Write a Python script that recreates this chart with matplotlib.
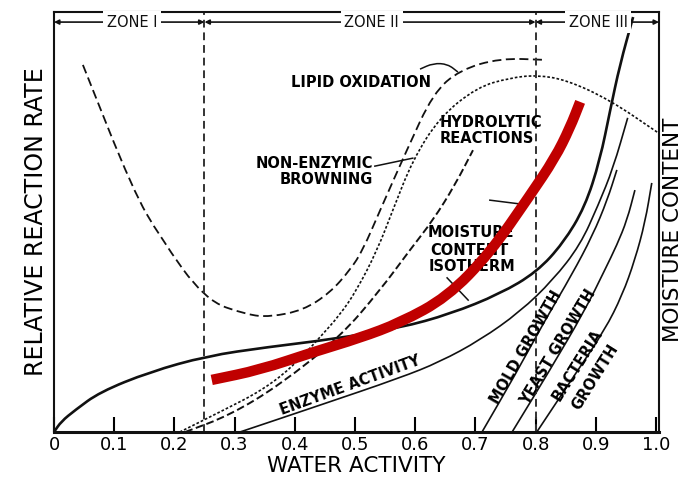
import matplotlib
matplotlib.use("Agg")
import matplotlib.pyplot as plt
from matplotlib.path import Path
from matplotlib.patches import PathPatch

plt.rcParams['font.family'] = ['DejaVu Sans']

# ---- data (water activity, relative reaction rate) ----
iso_aw = [0, 0.012, 0.035, 0.076, 0.159, 0.254, 0.354, 0.463, 0.575, 0.658, 0.741, 0.802, 0.846, 0.882, 0.907, 0.924, 0.940, 0.962]
iso_r = [0, 0.025, 0.052, 0.095, 0.143, 0.181, 0.202, 0.221, 0.248, 0.281, 0.329, 0.381, 0.450, 0.536, 0.648, 0.767, 0.874, 0.988]

lipid_aw = [0.048, 0.131, 0.176, 0.251, 0.321, 0.359, 0.414, 0.458, 0.492, 0.513, 0.542, 0.586, 0.630, 0.674, 0.741, 0.816]
lipid_r = [0.874, 0.576, 0.464, 0.314, 0.279, 0.274, 0.290, 0.331, 0.386, 0.433, 0.529, 0.671, 0.807, 0.862, 0.890, 0.886]

brown_aw = [0.209, 0.276, 0.347, 0.400, 0.442, 0.475, 0.503, 0.537, 0.563, 0.596, 0.641, 0.703, 0.757, 0.802, 0.852, 0.924, 1.002]
brown_r = [0, 0.048, 0.100, 0.160, 0.226, 0.279, 0.338, 0.433, 0.529, 0.648, 0.750, 0.821, 0.843, 0.850, 0.838, 0.790, 0.714]

hydro_aw = [0.218, 0.292, 0.375, 0.475, 0.542, 0.591, 0.630, 0.666, 0.696]
hydro_r = [0, 0.040, 0.112, 0.226, 0.338, 0.433, 0.505, 0.588, 0.671]

enz_aw = [0.309, 0.442, 0.575, 0.641, 0.708, 0.774, 0.829, 0.874, 0.904, 0.929, 0.953]
enz_r = [0, 0.064, 0.129, 0.167, 0.219, 0.286, 0.362, 0.445, 0.540, 0.629, 0.748]

mold_aw = [0.711, 0.766, 0.816, 0.860, 0.895, 0.919, 0.935]
mold_r = [0, 0.136, 0.267, 0.374, 0.469, 0.552, 0.624]

yeast_aw = [0.761, 0.824, 0.882, 0.915, 0.935, 0.952, 0.965]
yeast_r = [0, 0.148, 0.290, 0.386, 0.445, 0.505, 0.576]

bact_aw = [0.802, 0.865, 0.915, 0.944, 0.965, 0.982, 0.993]
bact_r = [0, 0.136, 0.243, 0.326, 0.410, 0.500, 0.593]

red_aw = [0.262, 0.342, 0.430, 0.508, 0.575, 0.653, 0.724, 0.791, 0.832, 0.857, 0.874]
red_r = [0.124, 0.148, 0.190, 0.224, 0.260, 0.321, 0.426, 0.564, 0.652, 0.724, 0.786]

zone_bounds = [0, 0.25, 0.8, 1.005]
zone_labels = ['ZONE I', 'ZONE II', 'ZONE III']
zone_label_x = [0.13, 0.528, 0.904]
xticks = [0, 0.1, 0.2, 0.3, 0.4, 0.5, 0.6, 0.7, 0.8, 0.9, 1.0]
xtick_labels = ['0', '0.1', '0.2', '0.3', '0.4', '0.5', '0.6', '0.7', '0.8', '0.9', '1.0']

fig = plt.figure(figsize=(6.92, 4.90), dpi=100)
ax = fig.add_axes([54/692, 58/490, 605/692, 420/490])
ax.set_xlim(0, 1.005)
ax.set_ylim(0, 1)

k = '#111111'


def smooth(xs, ys, **kw):
    """Draw a smooth curve through the read points using quadratic Bezier segments."""
    verts = [(xs[0], ys[0])]
    codes = [Path.MOVETO]
    n = len(xs)
    if n > 2:
        verts.append(((xs[0] + xs[1]) / 2, (ys[0] + ys[1]) / 2))
        codes.append(Path.LINETO)
        for i in range(1, n - 1):
            verts.append((xs[i], ys[i]))
            verts.append(((xs[i] + xs[i + 1]) / 2, (ys[i] + ys[i + 1]) / 2))
            codes += [Path.CURVE3, Path.CURVE3]
    verts.append((xs[-1], ys[-1]))
    codes.append(Path.LINETO)
    patch = PathPatch(Path(verts, codes), fill=False, transform=ax.transData, **kw)
    ax.add_patch(patch)
    return patch


smooth(iso_aw, iso_r, edgecolor=k, lw=1.9)
smooth(lipid_aw, lipid_r, edgecolor=k, lw=1.3, ls=(0, (5, 2.5)))
smooth(brown_aw, brown_r, edgecolor=k, lw=1.2, ls=(0, (1.6, 1.2)))
smooth(hydro_aw, hydro_r, edgecolor=k, lw=1.4, ls=(0, (4, 1.8)))
for xs, ys in [(enz_aw, enz_r), (mold_aw, mold_r), (yeast_aw, yeast_r), (bact_aw, bact_r)]:
    smooth(xs, ys, edgecolor=k, lw=1.2)

# zone boundaries
for b in zone_bounds[1:3]:
    ax.axvline(b, color='#333333', lw=1.4, ls=(0, (4, 2.5)))

# zone header arrows
zy = 0.976
for i, lab in enumerate(zone_labels):
    x0, x1 = zone_bounds[i], zone_bounds[i + 1]
    ax.annotate('', xy=(x0, zy), xytext=(x1, zy),
                arrowprops=dict(arrowstyle='<|-|>', color=k, lw=1.2,
                                mutation_scale=7, shrinkA=0, shrinkB=0))
    ax.text(zone_label_x[i], zy, lab, ha='center', va='center',
            fontsize=10.5, color=k,
            bbox=dict(boxstyle='square,pad=0.25', fc='white', ec='none'))

# red overlay curve
smooth(red_aw, red_r, edgecolor='#c00000', lw=7.5, capstyle='butt', joinstyle='round', zorder=5)

# labels on the chart
fs = 10.5
ax.text(0.510, 0.831, 'LIPID OXIDATION', ha='center', va='center', fontsize=fs, fontweight='bold')
ax.text(0.530, 0.640, 'NON-ENZYMIC', ha='right', va='center', fontsize=fs, fontweight='bold')
ax.text(0.530, 0.602, 'BROWNING', ha='right', va='center', fontsize=fs, fontweight='bold')
ax.text(0.641, 0.738, 'HYDROLYTIC', ha='left', va='center', fontsize=fs, fontweight='bold')
ax.text(0.641, 0.700, 'REACTIONS', ha='left', va='center', fontsize=fs, fontweight='bold')
ax.text(0.620, 0.476, 'MOISTURE', ha='left', va='center', fontsize=fs, fontweight='bold')
ax.text(0.625, 0.433, 'CONTENT', ha='left', va='center', fontsize=fs, fontweight='bold')
ax.text(0.622, 0.393, 'ISOTHERM', ha='left', va='center', fontsize=fs, fontweight='bold')
ax.text(0.492, 0.112, 'ENZYME ACTIVITY', ha='center', va='center', fontsize=fs, fontweight='bold', rotation=20)
ax.text(0.784, 0.202, 'MOLD GROWTH', ha='center', va='center', fontsize=fs, fontweight='bold', rotation=60)
ax.text(0.837, 0.202, 'YEAST GROWTH', ha='center', va='center', fontsize=fs, fontweight='bold', rotation=59)
ax.text(0.869, 0.160, 'BACTERIA', ha='center', va='center', fontsize=fs, fontweight='bold', rotation=58)
ax.text(0.899, 0.131, 'GROWTH', ha='center', va='center', fontsize=fs, fontweight='bold', rotation=58)

# leader lines
smooth([0.608, 0.630, 0.654, 0.671], [0.864, 0.878, 0.876, 0.857], edgecolor=k, lw=1.1)
ax.plot([0.533, 0.596], [0.633, 0.652], color=k, lw=1.1)
ax.plot([0.653, 0.688], [0.367, 0.314], color=k, lw=1.1)
ax.plot([0.724, 0.774], [0.552, 0.543], color=k, lw=1.1)

# axes styling
for s in ax.spines.values():
    s.set_color(k)
    s.set_linewidth(1.5)
ax.spines['bottom'].set_linewidth(2.2)
ax.set_xticks(xticks)
ax.set_xticklabels(xtick_labels)
ax.tick_params(axis='x', direction='in', length=11, width=1.5, labelsize=13, pad=3)
ax.set_yticks([])
ax.set_xlabel('WATER ACTIVITY', fontsize=15.5, labelpad=1)
ax.set_ylabel('RELATIVE REACTION RATE', fontsize=17, labelpad=4)
fig.text(673/692, 1 - 230/490, 'MOISTURE CONTENT', rotation=90, ha='center', va='center', fontsize=15.5)

fig.savefig('out.png', dpi=100, facecolor='white')
